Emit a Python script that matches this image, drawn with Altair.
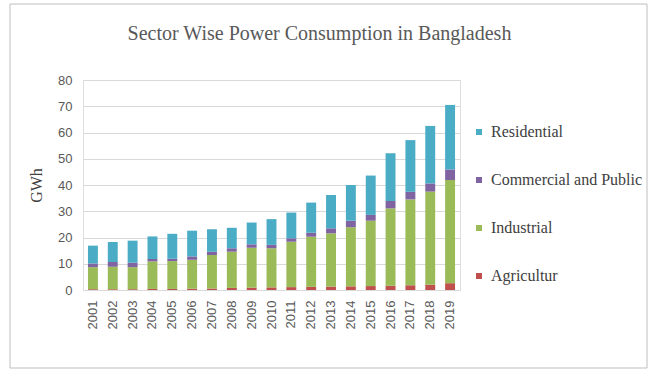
import altair as alt
import pandas as pd

years = [str(y) for y in range(2001, 2020)]
agricultur = [0.3, 0.3, 0.3, 0.4, 0.4, 0.5, 0.6, 0.8, 0.9, 1.0, 1.1, 1.2, 1.3, 1.4, 1.5, 1.6, 1.8, 2.0, 2.6]
industrial = [8.4, 8.6, 8.4, 10.5, 10.6, 11.0, 12.7, 13.8, 15.2, 14.9, 17.3, 19.1, 20.3, 22.5, 24.9, 29.5, 32.7, 35.5, 39.3]
commercial = [1.4, 1.8, 1.7, 0.9, 0.9, 1.3, 1.3, 1.3, 1.3, 1.3, 1.3, 1.5, 1.9, 2.5, 2.2, 2.8, 2.9, 3.1, 4.0]
residential = [6.8, 7.6, 8.4, 8.6, 9.5, 9.8, 8.5, 7.8, 8.3, 9.8, 9.8, 11.5, 12.7, 13.6, 15.0, 18.2, 19.7, 21.9, 24.6]

sectors = ["Agricultur", "Industrial", "Commercial and Public", "Residential"]
colors = ["#c0504d", "#9bbb59", "#8064a2", "#4bacc6"]
series = [agricultur, industrial, commercial, residential]

rows = []
for si, (name, vals) in enumerate(zip(sectors, series)):
    for y, v in zip(years, vals):
        rows.append({"Year": y, "Sector": name, "GWh": v, "order": si})
df = pd.DataFrame(rows)

W, H = 377, 210

bars = alt.Chart(df).mark_bar().encode(
    x=alt.X("Year:N", sort=years,
            scale=alt.Scale(paddingInner=0.5, paddingOuter=0.25),
            axis=alt.Axis(title=None, labelAngle=-90, labelFont="Liberation Sans",
                          labelFontSize=13, labelColor="#595959", labelPadding=10,
                          labelBaseline="middle", labelAlign="right",
                          domainColor="#d9d9d9", ticks=False)),
    y=alt.Y("GWh:Q", stack="zero",
            scale=alt.Scale(domain=[0, 80]),
            axis=alt.Axis(title="GWh", values=list(range(0, 81, 10)),
                          titleFont="Liberation Serif", titleFontSize=16,
                          titleFontWeight="normal", titleColor="#404040",
                          titlePadding=13,
                          labelFont="Liberation Sans", labelFontSize=13,
                          labelColor="#595959", labelPadding=11,
                          domain=False, ticks=False,
                          gridColor="#d9d9d9")),
    color=alt.Color("Sector:N",
                    scale=alt.Scale(domain=list(reversed(sectors)),
                                    range=list(reversed(colors))),
                    legend=alt.Legend(title=None, orient="none", legendX=388, legendY=44,
                                      symbolType="square", symbolSize=36,
                                      symbolStrokeWidth=0,
                                      labelFont="Liberation Serif", labelFontSize=16,
                                      labelColor="#404040", rowPadding=32,
                                      labelOffset=4)),
    order=alt.Order("order:Q", sort="ascending"),
)

border = alt.Chart(pd.DataFrame({"a": [0]})).mark_rect(
    fill=None, stroke="#bfbfbf", strokeWidth=1, clip=False
).encode(
    x=alt.value(-73), x2=alt.value(564), y=alt.value(-76), y2=alt.value(288)
)

chart = alt.layer(border, bars).properties(
    width=W, height=H,
    title=alt.TitleParams("Sector Wise Power Consumption in Bangladesh",
                          font="Liberation Serif", fontSize=20, fontWeight="normal",
                          color="#595959", anchor="middle", dx=48, offset=-40),
    autosize=alt.AutoSizeParams(type="none"),
    padding={"left": 83, "top": 80, "right": 192, "bottom": 82},
).configure_view(stroke=None).configure(background="white")

chart.save("out.html", embed_options={"renderer": "svg", "actions": False})
